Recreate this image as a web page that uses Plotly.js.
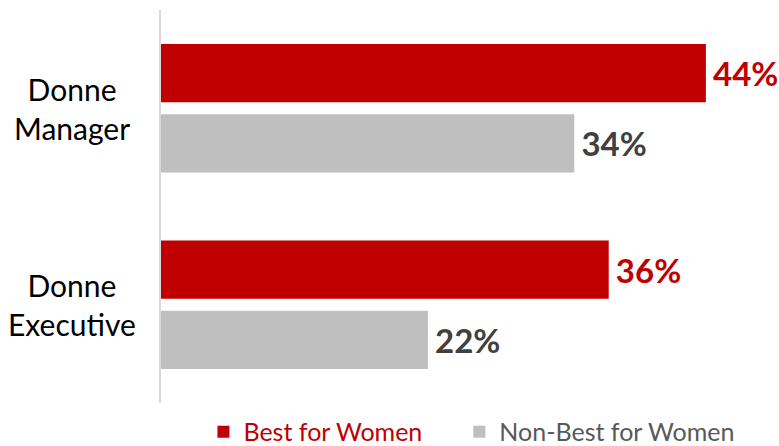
<!DOCTYPE html>
<html><head><meta charset="utf-8">
<script src="https://cdn.plot.ly/plotly-3.0.1.min.js"></script>
<style>html,body{margin:0;padding:0;background:#fff}#chart{width:779px;height:446px}</style>
</head><body><div id="chart"></div>
<script>
const categories = ["Donne<br>Manager", "Donne<br>Executive"];
const seriesNames = ["Best for Women", "Non-Best for Women"];
const bestValues = [44.3, 36.4];
const nonBestValues = [33.6, 21.7];
const bestLabels = ["44%", "36%"];
const nonBestLabels = ["34%", "22%"];

const RED = "#C00000", GREY = "#BFBFBF";
const FONT = "Lato, Carlito, Calibri, sans-serif";
const PAD = "\u00A0".repeat(5);

const traces = [
  {type:"bar", orientation:"h", y:categories, x:bestValues, text:bestLabels.map(t=>"\u2009"+t),
   name:'<span style="color:#C00000">'+seriesNames[0]+'</span>'+PAD,
   marker:{color:RED}, textposition:"outside", cliponaxis:false,
   textfont:{family:FONT, size:33, color:RED, weight:"bold"}, hoverinfo:"none"},
  {type:"bar", orientation:"h", y:categories, x:nonBestValues, text:nonBestLabels.map(t=>"\u2009"+t),
   name:'<span style="color:#595959">'+seriesNames[1]+'</span>',
   marker:{color:GREY}, textposition:"outside", cliponaxis:false,
   textfont:{family:FONT, size:33, color:"#404040", weight:"bold"}, hoverinfo:"none"}
];

const annotations = categories.map(c => ({
  xref:"paper", yref:"y", x:-0.144, y:c, text:c, showarrow:false,
  xanchor:"center", yanchor:"middle", align:"center",
  font:{family:FONT, size:30, color:"#000000"}
}));

const layout = {
  width:779, height:446,
  margin:{l:161, r:3, t:10, b:43, autoexpand:false},
  paper_bgcolor:"#fff", plot_bgcolor:"#fff",
  barmode:"group", bargap:0.286, bargroupgap:0.17,
  font:{family:FONT},
  xaxis:{range:[0,50], visible:false, fixedrange:true},
  yaxis:{autorange:"reversed", showticklabels:false, ticks:"", showgrid:false,
         zeroline:false, showline:true, linecolor:"#D9D9D9", linewidth:2, fixedrange:true},
  showlegend:true,
  legend:{orientation:"h", x:0.069, xanchor:"left", y:-0.015, yanchor:"top",
          font:{family:FONT, size:25}, traceorder:"normal"},
  annotations:annotations
};

Plotly.newPlot("chart", traces, layout, {displayModeBar:false, staticPlot:true});
</script></body></html>
